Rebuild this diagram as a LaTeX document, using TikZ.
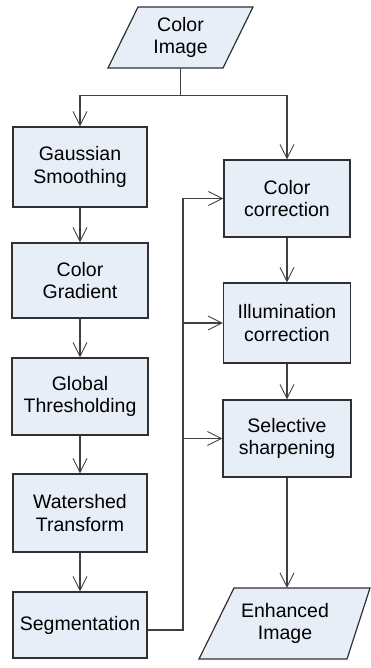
\documentclass[tikz,border=0pt]{standalone}
\usepackage{fontspec}
\setmainfont{Liberation Sans}
\usetikzlibrary{arrows.meta,calc}
\definecolor{boxfill}{HTML}{E8EEF8}
\definecolor{boxline}{HTML}{303030}
\definecolor{conline}{HTML}{404040}
\begin{document}
\begin{tikzpicture}[x=1pt,y=-1pt,
  proc/.style={draw=boxline,fill=boxfill,line width=1.2pt,align=center,
    font=\fontsize{19.5}{22.7}\selectfont,inner sep=0pt},
  iotext/.style={draw=none,align=center,font=\fontsize{19.5}{22.7}\selectfont,inner sep=0pt},
  iobox/.style={draw=boxline,fill=boxfill,line width=1.2pt},
  conn/.style={draw=conline,line width=1.2pt},
  arr/.style={conn,-{Straight Barb[length=14pt,width=14pt,line width=0.9pt]}}]
\useasboundingbox (0,0) rectangle (371,668);
% input parallelogram
\path[iobox] (138,7) -- (253,7) -- (223,68) -- (108,68) -- cycle;
\node[iotext,minimum height=61pt,minimum width=85pt] (img) at (180.5,37.5) {Color\\Image};
% left column
\node[proc,minimum width=134pt,minimum height=80pt] (gauss) at (80,167) {Gaussian\\Smoothing};
\node[proc,minimum width=136pt,minimum height=75pt] (grad) at (80,280.5) {Color\\Gradient};
\node[proc,minimum width=136pt,minimum height=77pt] (thresh) at (80,396.5) {Global\\Thresholding};
\node[proc,minimum width=134pt,minimum height=78pt] (water) at (80,513) {Watershed\\Transform};
\node[proc,minimum width=134pt,minimum height=66pt] (seg) at (80,625) {Segmentation};
% right column
\node[proc,minimum width=126pt,minimum height=77pt] (colcor) at (287,198.5) {Color\\correction};
\node[proc,minimum width=127pt,minimum height=80pt] (illum) at (287,323) {Illumination\\correction};
\node[proc,minimum width=128pt,minimum height=77pt] (sharp) at (287,438.5) {Selective\\sharpening};
% output parallelogram
\path[iobox] (234,588) -- (370,588) -- (347,659) -- (199,659) -- cycle;
\node[iotext,minimum height=71pt,minimum width=100pt] (enh) at (285,623.5) {Enhanced\\Image};
% connectors
\draw[conn] (img.south) -- ++(0,27) coordinate (split);
\draw[arr] (split) -| (gauss.north);
\draw[arr] (split) -| (colcor.north);
\draw[arr] (gauss) -- (grad);
\draw[arr] (grad) -- (thresh);
\draw[arr] (thresh) -- (water);
\draw[arr] (water) -- (seg);
\draw[arr] (colcor) -- (illum);
\draw[arr] (illum) -- (sharp);
\draw[arr] (sharp.south) -- (sharp.south |- enh.north);
\coordinate (bus) at (183,0);
\draw[arr] ([yshift=-5pt]seg.east) -| (bus |- colcor.west) -- (colcor.west);
\draw[arr] (bus |- illum.west) -- (illum.west);
\draw[arr] (bus |- sharp.west) -- (sharp.west);
\end{tikzpicture}
\end{document}
